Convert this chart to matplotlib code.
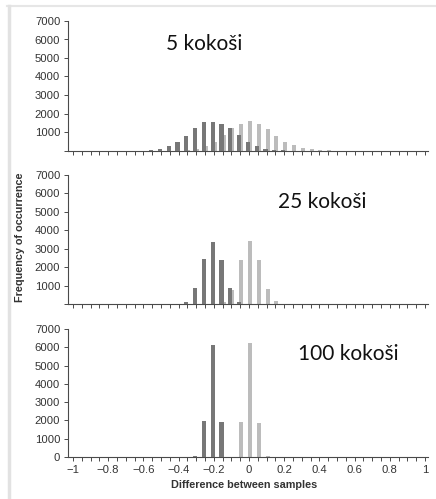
import numpy as np
import matplotlib
matplotlib.use('Agg')
import matplotlib.pyplot as plt
from matplotlib.lines import Line2D

# bin centres (step 0.05)
bins = np.round(np.arange(-1, 1.0001, 0.05), 2)

# 5 kokoši
x5_dark = [-0.55, -0.5, -0.45, -0.4, -0.35, -0.3, -0.25, -0.2, -0.15, -0.1, -0.05, 0, 0.05, 0.1, 0.15, 0.2]
y5_dark = [30, 90, 260, 440, 760, 1190, 1540, 1540, 1440, 1190, 860, 450, 250, 100, 50, 20]
x5_light = [-0.35, -0.3, -0.25, -0.2, -0.15, -0.1, -0.05, 0, 0.05, 0.1, 0.15, 0.2, 0.25, 0.3, 0.35, 0.4, 0.45]
y5_light = [20, 90, 270, 450, 850, 1190, 1440, 1570, 1440, 1140, 810, 450, 300, 160, 90, 50, 20]

# 25 kokoši
x25_dark = [-0.35, -0.3, -0.25, -0.2, -0.15, -0.1, -0.05]
y25_dark = [120, 850, 2450, 3370, 2400, 850, 110]
x25_light = [-0.15, -0.1, -0.05, 0, 0.05, 0.1, 0.15]
y25_light = [130, 780, 2400, 3430, 2400, 830, 150]

# 100 kokoši
x100_dark = [-0.3, -0.25, -0.2, -0.15]
y100_dark = [50, 1950, 6150, 1890]
x100_light = [-0.05, 0, 0.05, 0.1]
y100_light = [1890, 6250, 1840, 50]

panels = [
    ('5 kokoši', x5_dark, y5_dark, x5_light, y5_light, (-0.47, 5430)),
    ('25 kokoši', x25_dark, y25_dark, x25_light, y25_light, (0.163, 5190)),
    ('100 kokoši', x100_dark, y100_dark, x100_light, y100_light, (0.277, 5300)),
]

xlabels_major = [-1, -0.8, -0.6, -0.4, -0.2, 0, 0.2, 0.4, 0.6, 0.8, 1]
yticks = [0, 1000, 2000, 3000, 4000, 5000, 6000, 7000]

dark = '#777777'
light = '#bcbcbc'
axcol = '#4a4a4a'
txtcol = '#333333'

plt.rcParams['font.family'] = ['Liberation Sans', 'DejaVu Sans']

W, H = 436, 499
fig = plt.figure(figsize=(W / 100, H / 100), dpi=100)

# light grey frame of the screenshot
fig.add_artist(Line2D([7 / W, 1], [1 - 6 / H] * 2, color='#e6e6e6', lw=1.5))
fig.add_artist(Line2D([8.8 / W] * 2, [0, 1 - 6 / H], color='#e2e2e2', lw=2.5))

tops = [21, 175, 329]
bottoms = [150.5, 304, 457]
left, right = 68, 428
off = 0.006
bw = 0.023

for i, (name, xd, yd, xl, yl, tpos) in enumerate(panels):
    ax = fig.add_axes([left / W, 1 - bottoms[i] / H, (right - left) / W, (bottoms[i] - tops[i]) / H])
    ax.bar(np.array(xl) + off, yl, width=bw, color=light, zorder=2)
    ax.bar(np.array(xd) - off, yd, width=bw, color=dark, zorder=3)
    ax.set_xlim(-1.028, 1.017)
    ax.set_ylim(0, 7000)
    ax.spines['top'].set_visible(False)
    ax.spines['right'].set_visible(False)
    for s in ['left', 'bottom']:
        ax.spines[s].set_color(axcol)
        ax.spines[s].set_linewidth(0.8)
    ax.set_xticks(bins)
    if i == 2:
        lab = []
        for b in bins:
            if any(abs(b - m) < 1e-6 for m in xlabels_major):
                lab.append(('%g' % b).replace('-', '\u2212'))
            else:
                lab.append('')
        ax.set_xticklabels(lab)
    else:
        ax.set_xticklabels([])
    ax.set_yticks(yticks)
    if i == 2:
        ax.set_yticklabels([str(v) for v in yticks])
    else:
        ax.set_yticklabels([''] + [str(v) for v in yticks[1:]])
    ax.tick_params(axis='both', direction='out', length=3, width=0.7, color=axcol,
                   labelsize=8.1, labelcolor=txtcol, pad=2.5)
    ax.text(tpos[0], tpos[1], name, ha='left', va='baseline', fontsize=15,
            family=['Lato', 'DejaVu Sans'], color='#111111')

fig.text(20 / W, 1 - 237 / H, 'Frequency of occurrence', rotation=90, ha='center', va='center',
         fontsize=7.8, fontweight='bold', color=txtcol)
fig.text(244 / W, 1 - 485 / H, 'Difference between samples', ha='center', va='center',
         fontsize=7.8, fontweight='bold', color=txtcol)

fig.savefig('out.png', dpi=100)
